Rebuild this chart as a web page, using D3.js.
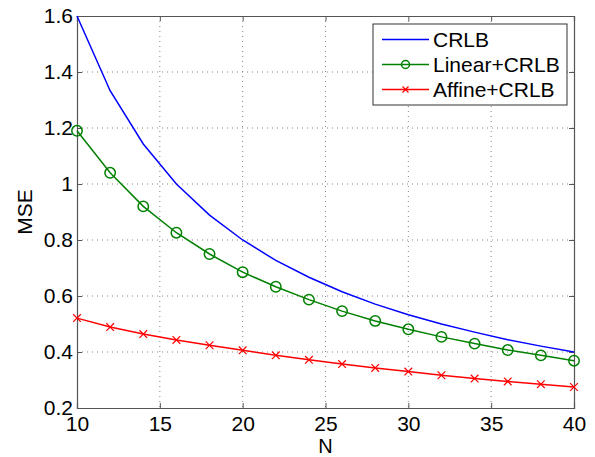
<!DOCTYPE html>
<html>
<head>
<meta charset="utf-8">
<script src="https://cdn.jsdelivr.net/npm/d3@7"></script>
<style>
  body { margin: 0; background: #fff; }
  svg { display: block; font-family: "Liberation Sans", Arial, sans-serif; }
</style>
</head>
<body>
<svg width="595" height="457"></svg>
<script>
// data
const N = [10, 12, 14, 16, 18, 20, 22, 24, 26, 28, 30, 32, 34, 36, 38, 40];
const crlb = [1.6, 1.333, 1.143, 1.0, 0.889, 0.8, 0.727, 0.667, 0.615, 0.571, 0.533, 0.5, 0.471, 0.444, 0.421, 0.4];
const linearCrlb = [1.19, 1.04, 0.92, 0.826, 0.75, 0.685, 0.633, 0.587, 0.546, 0.511, 0.481, 0.454, 0.43, 0.407, 0.388, 0.369];
const affineCrlb = [0.521, 0.489, 0.464, 0.443, 0.424, 0.406, 0.388, 0.372, 0.357, 0.343, 0.33, 0.317, 0.305, 0.295, 0.285, 0.275];
const xTicks = [10, 15, 20, 25, 30, 35, 40];
const yTicks = [0.2, 0.4, 0.6, 0.8, 1, 1.2, 1.4, 1.6];
const seriesNames = ["CRLB", "Linear+CRLB", "Affine+CRLB"];

const svg = d3.select("svg");
const margin = {left: 77, right: 21, top: 16, bottom: 49};
const width = 595 - margin.left - margin.right,
  height = 457 - margin.top - margin.bottom;

const x = d3.scaleLinear().domain([10, 40]).range([0, width]);
const y = d3.scaleLinear().domain([0.2, 1.6]).range([height, 0]);

const g = svg.append("g").attr("transform", `translate(${margin.left},${margin.top})`);

// grid
g.append("g").selectAll("line")
  .data(xTicks.slice(1, -1))
  .join("line")
    .attr("x1", d => x(d)).attr("x2", d => x(d))
    .attr("y1", 0).attr("y2", height)
    .attr("stroke", "#666").attr("stroke-width", 0.8)
    .attr("stroke-dasharray", "1,4");
g.append("g").selectAll("line")
  .data(yTicks.slice(1, -1))
  .join("line")
    .attr("y1", d => y(d)).attr("y2", d => y(d))
    .attr("x1", 0).attr("x2", width)
    .attr("stroke", "#666").attr("stroke-width", 0.8)
    .attr("stroke-dasharray", "1,4");

// axes (MATLAB style: ticks inward, box)
const axisColor = "#555";
const tickLen = 5;
const fontSize = 21;

const xAxis = g.append("g").attr("transform", `translate(0,${height})`)
  .call(d3.axisBottom(x).tickValues(xTicks).tickSize(-tickLen).tickPadding(8).tickFormat(d3.format("d")));
const yAxis = g.append("g")
  .call(d3.axisLeft(y).tickValues(yTicks).tickSize(-tickLen).tickPadding(4).tickFormat(d => d3.format("")(d)));
g.append("g")
  .call(d3.axisTop(x).tickValues(xTicks).tickSize(-tickLen).tickFormat(""));
g.append("g").attr("transform", `translate(${width},0)`)
  .call(d3.axisRight(y).tickValues(yTicks).tickSize(-tickLen).tickFormat(""));

g.selectAll(".domain").attr("stroke", axisColor).attr("stroke-width", 1.2);
g.selectAll(".tick line").attr("stroke", axisColor).attr("stroke-width", 1);
g.selectAll(".tick text").attr("fill", "#000").style("font-size", fontSize + "px")
  .style("font-family", "'Liberation Sans', Arial, sans-serif");
xAxis.selectAll(".tick text").attr("dy", "0.71em");

// lines
const line = d3.line().x((d, i) => x(N[i])).y(d => y(d));
g.append("path").datum(crlb).attr("d", line)
  .attr("fill", "none").attr("stroke", "#0000ff").attr("stroke-width", 1.5);
g.append("path").datum(linearCrlb).attr("d", line)
  .attr("fill", "none").attr("stroke", "#008000").attr("stroke-width", 1.5);
g.append("path").datum(affineCrlb).attr("d", line)
  .attr("fill", "none").attr("stroke", "#ff0000").attr("stroke-width", 1.5);

// markers
g.append("g").selectAll("circle")
  .data(linearCrlb)
  .join("circle")
    .attr("cx", (d, i) => x(N[i])).attr("cy", d => y(d)).attr("r", 5.2)
    .attr("fill", "none").attr("stroke", "#008000").attr("stroke-width", 1.5);

const cross = d3.symbol().type(d3.symbolX).size(40);
g.append("g").selectAll("path")
  .data(affineCrlb)
  .join("path")
    .attr("transform", (d, i) => `translate(${x(N[i])},${y(d)})`)
    .attr("d", cross)
    .attr("fill", "#ff0000").attr("stroke", "#ff0000").attr("stroke-width", 1.2);

// axis labels
svg.append("text")
  .attr("x", margin.left + width / 2).attr("y", 452.5)
  .attr("text-anchor", "middle").style("font-size", "20px")
  .text("N");
svg.append("text")
  .attr("transform", `translate(32,${margin.top + height / 2}) rotate(-90)`)
  .attr("text-anchor", "middle").style("font-size", fontSize + "px")
  .text("MSE");

// legend
const legend = svg.append("g").attr("transform", "translate(373,24)");
legend.append("rect")
  .attr("width", 194).attr("height", 81)
  .attr("fill", "#fff").attr("stroke", "#333").attr("stroke-width", 1);
const colors = ["#0000ff", "#008000", "#ff0000"];
const rows = legend.selectAll("g.row")
  .data(seriesNames)
  .join("g")
    .attr("class", "row")
    .attr("transform", (d, i) => `translate(0,${15.5 + i * 25})`);
rows.append("line")
  .attr("x1", 9).attr("x2", 56)
  .attr("stroke", (d, i) => colors[i]).attr("stroke-width", 1.5);
rows.filter((d, i) => i === 1).append("circle")
  .attr("cx", 32.5).attr("r", 4).attr("fill", "none")
  .attr("stroke", colors[1]).attr("stroke-width", 1.5);
rows.filter((d, i) => i === 2).append("path")
  .attr("transform", "translate(32.5,0)")
  .attr("d", d3.symbol().type(d3.symbolX).size(25))
  .attr("fill", colors[2]).attr("stroke", colors[2]).attr("stroke-width", 1.2);
rows.append("text")
  .attr("x", 60).attr("dy", "0.35em")
  .style("font-size", fontSize + "px")
  .text(d => d);
</script>
</body>
</html>
